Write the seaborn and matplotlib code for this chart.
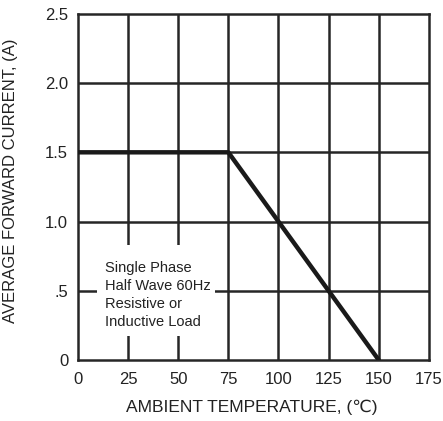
import matplotlib
matplotlib.use("Agg")
import matplotlib.pyplot as plt
from matplotlib.patches import Rectangle
import seaborn as sns
import pandas as pd

# derating curve
temperature = [0, 75, 150]
current = [1.5, 1.5, 0.0]

x_ticks = [0, 25, 50, 75, 100, 125, 150, 175]
y_ticks = [0, 0.5, 1.0, 1.5, 2.0, 2.5]
y_tick_labels = ["0", ".5", "1.0", "1.5", "2.0", "2.5"]

note = "Single Phase\nHalf Wave 60Hz\nResistive or\nInductive Load"

df = pd.DataFrame({"Temperature": temperature, "Current": current})

sns.set_style("white")
plt.rcParams["font.family"] = ["Liberation Sans", "DejaVu Sans"]

fig = plt.figure(figsize=(4.43, 4.21), dpi=100)
ax = fig.add_axes([0.176, 0.145, 0.792, 0.822])

grid_color = "#262626"
for x in x_ticks[1:-1]:
    ax.axvline(x, color=grid_color, lw=1.8, zorder=1)
for y in y_ticks[1:-1]:
    ax.axhline(y, color=grid_color, lw=1.8, zorder=1)

sns.lineplot(data=df, x="Temperature", y="Current", color="#1a1a1a",
             lw=3.2, ax=ax, zorder=3)

# white box behind the note
ax.add_patch(Rectangle((9.5, 0.17), 59, 0.66, fc="white", ec="none", zorder=2))
ax.text(13.5, 0.47, note, fontsize=10.5, color="#222222", linespacing=1.38,
        va="center", ha="left", zorder=4)

ax.set_xlim(0, 175)
ax.set_ylim(0, 2.5)
ax.set_xticks(x_ticks)
ax.set_yticks(y_ticks)
ax.set_yticklabels(y_tick_labels)
ax.tick_params(length=0, labelsize=12, colors="#222222")
ax.tick_params(axis="y", pad=7)
ax.tick_params(axis="x", pad=9)

for s in ax.spines.values():
    s.set_color(grid_color)
    s.set_linewidth(1.8)

ax.set_xlabel("AMBIENT TEMPERATURE, (\u2103)", fontsize=12.5, color="#222222")
ax.set_ylabel("AVERAGE FORWARD CURRENT, (A)", fontsize=12, color="#222222")
ax.xaxis.set_label_coords(0.496, -0.115)
ax.yaxis.set_label_coords(-0.171, 0.517)

fig.savefig("out.png", dpi=100)
